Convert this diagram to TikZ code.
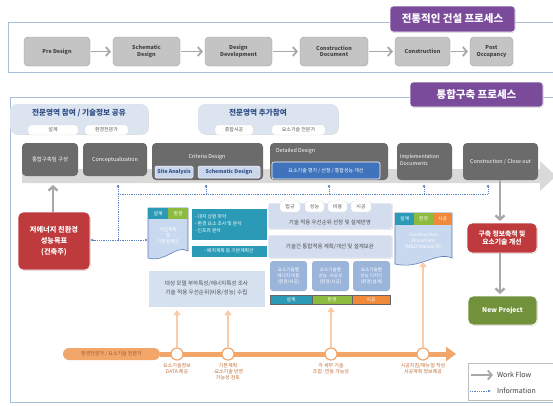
\documentclass[tikz,border=0pt]{standalone}
\usepackage{fontspec}
\setmainfont{Noto Sans CJK KR}
\usetikzlibrary{arrows.meta,shadows,calc}
\definecolor{purp}{HTML}{7A4A9B}
\definecolor{framec}{HTML}{A9BFD9}
\definecolor{oldgray}{HTML}{C4C4C4}
\definecolor{oldedge}{HTML}{9A9FA8}
\definecolor{darkg}{HTML}{6B6B6B}
\definecolor{subb}{HTML}{C9D6EC}
\definecolor{subt}{HTML}{2F4E86}
\definecolor{blueb}{HTML}{3F73BC}
\definecolor{cloudc}{HTML}{DCE4F0}
\definecolor{redc}{HTML}{BE3A3C}
\definecolor{greenc}{HTML}{71913A}
\definecolor{tealc}{HTML}{2A9AB6}
\definecolor{tabg}{HTML}{8DBB3E}
\definecolor{tabo}{HTML}{F08A3A}
\definecolor{lbc}{HTML}{D6E1F0}
\definecolor{midc}{HTML}{D3DDEE}
\definecolor{smallc}{HTML}{9BB4DA}
\definecolor{docf}{HTML}{C8D8EE}
\definecolor{doce}{HTML}{5C7DB5}
\definecolor{bandc}{HTML}{D9D9D9}
\definecolor{wfc}{HTML}{A8A8A8}
\definecolor{infoc}{HTML}{5A84C4}
\definecolor{tlc}{HTML}{F2A66A}
\definecolor{peachc}{HTML}{F9CBA6}
\definecolor{tltext}{HTML}{C0703A}
\newcommand{\mybox}[7]{\node[#6,minimum width={(#4)-(#2)},minimum height={(#5)-(#3)}] (#1) at ({((#2)+(#4))/2},{((#3)+(#5))/2}) {#7};}
\tikzset{
  shad/.style={drop shadow={opacity=0.25,shadow xshift=0.8pt,shadow yshift=-0.8pt}},
  base/.style={inner sep=0pt,outer sep=0pt,align=center},
  titlebox/.style={base,fill=purp,rounded corners=3pt,draw=white,line width=0.8pt,text=white,font=\fontsize{10.5}{12}\selectfont\bfseries,shad},
  oldbox/.style={base,fill=oldgray,draw=oldedge,line width=0.4pt,rounded corners=4pt,text=black!75,font=\fontsize{5.4}{6.4}\selectfont\bfseries},
  procbox/.style={base,fill=darkg,rounded corners=4pt,text=white,font=\fontsize{5.4}{6.4}\selectfont},
  subbox/.style={base,fill=subb,draw=white,line width=0.5pt,rounded corners=1.5pt,text=subt,font=\fontsize{5.2}{6.2}\selectfont\bfseries},
  bluebox/.style={base,fill=blueb,draw=white,line width=0.6pt,rounded corners=2pt,text=white,font=\fontsize{5}{6}\selectfont},
  cloud/.style={base,fill=cloudc,rounded corners=7pt,shad},
  cloudtext/.style={base,text=subt,font=\fontsize{7.6}{9}\selectfont\bfseries},
  tabw/.style={base,fill=white,rounded corners=3pt,draw=black!15,line width=0.3pt,text=black!65,font=\fontsize{5}{6}\selectfont},
  redbox/.style={base,fill=redc,rounded corners=5pt,draw=white,line width=0.8pt,text=white,font=\fontsize{7.2}{11}\selectfont\bfseries,shad},
  greenbox/.style={base,fill=greenc,rounded corners=5pt,draw=white,line width=0.8pt,text=white,font=\fontsize{6.6}{8}\selectfont\bfseries,shad},
  tealbox/.style={base,fill=tealc,draw=white,line width=0.5pt,text=white,font=\fontsize{4.8}{6.6}\selectfont,shad},
  ttab/.style={base,fill=tealc,text=white,font=\fontsize{4.8}{5.4}\selectfont},
  gtab/.style={base,fill=tabg,text=white,font=\fontsize{4.8}{5.4}\selectfont},
  otab/.style={base,fill=tabo,text=white,font=\fontsize{4.8}{5.4}\selectfont},
  lbbox/.style={base,fill=lbc,draw=white,line width=0.5pt,text=black!70,font=\fontsize{5.6}{9}\selectfont,shad},
  midbox/.style={base,fill=midc,draw=white,line width=0.5pt,rounded corners=2pt,text=black!70,font=\fontsize{5.5}{6.5}\selectfont,shad},
  smallbox/.style={base,fill=smallc,rounded corners=3pt,text=white,font=\fontsize{4.6}{5.6}\selectfont},
  docshape/.style={fill=docf,draw=doce,line width=0.6pt},
  doctext/.style={base,text=white,font=\fontsize{4.8}{6}\selectfont},
  wft/.style={draw=wfc,line width=1.8pt,-{Straight Barb[length=4pt,width=9pt]},shorten >=2pt,shorten <=1pt},
  wfv/.style={draw=wfc,line width=2.4pt,-{Straight Barb[length=4pt,width=9pt]}},
  info/.style={draw=infoc,line width=0.6pt,dash pattern=on 1pt off 0.8pt},
  infoarr/.style={info,-{Latex[length=3pt,width=2.6pt]}},
  infodot/.style={info,{Circle[length=2.4pt]}-},
  peach/.style={draw=peachc,line width=2pt,-{Triangle[length=5pt,width=7pt]}},
  tlcirc/.style={circle,fill=white,draw=tlc,line width=1.2pt,minimum size=12pt,inner sep=0pt},
  tllab/.style={base,text=tltext,font=\fontsize{5}{6.2}\selectfont,anchor=north},
  legtext/.style={base,text=black!75,font=\fontsize{7}{8}\selectfont,anchor=west}
}
\begin{document}
\begin{tikzpicture}[x=1pt,y=-1pt]
\useasboundingbox (0,0) rectangle (553,405);
\fill[white] (0,0) rectangle (553,405);
% ---------- traditional process ----------
\draw[framec,line width=0.8pt] (8,22) rectangle (560,72);
\mybox{t1}{390}{6}{515}{32}{titlebox}{전통적인 건설 프로세스}
\mybox{p1}{24}{37}{90}{66}{oldbox}{Pre Design}
\mybox{p2}{113}{37}{180}{66}{oldbox}{Schematic\\Design}
\mybox{p3}{205}{37}{272}{66}{oldbox}{Design\\Development}
\mybox{p4}{300}{37}{368}{66}{oldbox}{Construction\\Document}
\mybox{p5}{395}{37}{450}{66}{oldbox}{Construction}
\mybox{p6}{470}{37}{513}{66}{oldbox}{Post\\Occupancy}
\draw[wft] (p1) -- (p2);
\draw[wft] (p2) -- (p3);
\draw[wft] (p3) -- (p4);
\draw[wft] (p4) -- (p5);
\draw[wft] (p5) -- (p6);
% ---------- integrated process ----------
\draw[framec,line width=0.8pt] (10,97) rectangle (560,402);
\mybox{t2}{410}{82}{543}{107}{titlebox}{통합구축 프로세스}
% callouts
\mybox{cl1}{10}{104}{148}{134}{cloud}{}
\node[cloudtext] (cl1t) at (79,113) {전문영역 참여 / 기술정보 공유};
\mybox{cl1a}{28}{125}{78}{135}{tabw}{설계}
\mybox{cl1b}{85}{125}{128}{135}{tabw}{환경전문가}
\mybox{cl2}{198}{104}{338}{134}{cloud}{}
\node[cloudtext] (cl2t) at (258,113) {전문영역 추가참여};
\mybox{cl2a}{215}{125}{253}{135}{tabw}{종합시공}
\mybox{cl2b}{272}{125}{325}{135}{tabw}{요소기술 전문가}
% band arrow
\fill[bandc] (22,169) -- (540,169) -- (540,161) -- (556,176) -- (540,191) -- (540,183) -- (22,183) -- cycle;
% process boxes
\mybox{team}{22}{143}{78}{176}{procbox}{통합구축팀 구성}
\mybox{concept}{83}{143}{147}{176}{procbox}{Conceptualization}
\mybox{criteria}{152}{143}{263}{180}{procbox}{}
\node[base,text=white,font=\fontsize{5.4}{6.4}\selectfont] (critt) at (207,157) {Criteria Design};
\mybox{site}{155}{166}{193}{178}{subbox}{Site Analysis}
\mybox{schem}{198}{166}{260}{178}{subbox}{Schematic Design}
\mybox{detail}{270}{143}{388}{180}{procbox}{}
\node[base,text=white,font=\fontsize{5.4}{6.4}\selectfont,anchor=west] (dett) at (276,151) {Detailed Design};
\mybox{detsub}{272}{162}{380}{179}{bluebox}{요소기술 평가 / 선정 / 통합성능 개선}
\mybox{impl}{397}{143}{452}{180}{procbox}{}
\node[base,text=white,font=\fontsize{5.2}{6.4}\selectfont,anchor=west,align=left] (implt) at (400,160) {Implementation\\Documents};
\mybox{close}{463}{143}{538}{180}{procbox}{Construction / Close out}
% info lines
\coordinate (dA) at (118,185);
\coordinate (dB) at (206,185);
\coordinate (dC) at (329,185);
\coordinate (dD) at (424,185);
\coordinate (dE) at (488,185);
\coordinate (hA) at (118,194);
\coordinate (hB) at (206,194);
\coordinate (hC) at (329,194);
\coordinate (hD) at (424,194);
\coordinate (hE) at (488,194);
\coordinate (jn) at (118,240);
\draw[infodot] (dA) -- (jn);
\draw[infodot] (dB) -- (hB);
\draw[infodot] (dC) -- (hC);
\draw[infodot] (dD) -- (hD);
\draw[infodot] (dE) -- (hE);
\draw[info] (hA) -- (hE);
% red left
\mybox{redL}{18}{212}{90}{270}{redbox}{저에너지 친환경\\성능목표\\(건축주)}
\coordinate (bandL) at (53,185);
\draw[wfv] (redL.north -| bandL) -- (bandL);
\draw[infoarr] (jn) -- (jn -| redL.east);
% document 1
\draw[docshape] (148,208) -- (188,208) -- (188,251) .. controls (176,244) and (166,263) .. (148,258) -- cycle;
\mybox{doc1}{148}{219}{188}{252}{doctext}{사업계획\\및\\기본설계안}
\mybox{d1a}{148}{208}{168}{219}{ttab}{설계}
\mybox{d1b}{168}{208}{188}{219}{gtab}{환경}
\draw[infoarr] (jn) -- (jn -| doc1.west);
\mybox{tealA}{191}{208}{267}{240}{tealbox}{}
\node[base,anchor=west,align=left,text=white,font=\fontsize{4.8}{7}\selectfont] (tealAt) at (195,224) {- 대지 상황 파악\\- 환경 요소 조사 및 분석\\- 인프라 분석};
\mybox{tealB}{191}{245}{267}{257}{tealbox}{- 배치계획 등 기본계획안}
\mybox{lb}{148}{270}{265}{307}{lbbox}{대상 모델 부하특성/에너지특성 조사\\기술 적용 우선순위(비용/성능) 수립}
% middle
\mybox{m1}{268}{203}{392}{229}{midbox}{}
\node[base,text=black!70,font=\fontsize{5.5}{6.5}\selectfont] (m1t) at (330,222) {기술 적용 우선순위 선정 및 설계반영};
\mybox{m1a}{280}{201}{300}{212}{tabw}{법규}
\mybox{m1b}{305}{201}{324}{212}{tabw}{성능}
\mybox{m1c}{328}{201}{347}{212}{tabw}{비용}
\mybox{m1d}{351}{201}{371}{212}{tabw}{시공}
\mybox{m2}{268}{235}{392}{258}{midbox}{기술간 통합적용 계획/개선 및 설계보완}
\mybox{s1}{270}{261}{307}{291}{smallbox}{요소기술별\\에너지 비용\\(환경/시공)}
\mybox{s2}{312}{261}{349}{291}{smallbox}{요소기술별\\성능·시공성\\(환경/시공)}
\mybox{s3}{353}{261}{390}{291}{smallbox}{요소기술별\\성능 디자인\\(환경/설계)}
\mybox{mt1}{270}{295}{312}{304}{ttab,draw=black!60,line width=0.4pt}{설계}
\mybox{mt2}{312}{295}{352}{304}{gtab,draw=black!60,line width=0.4pt}{환경}
\mybox{mt3}{352}{295}{390}{304}{otab,draw=black!60,line width=0.4pt}{시공}
% document 3
\draw[docshape] (395,213) -- (452,213) -- (452,258) .. controls (436,251) and (420,270) .. (395,264) -- cycle;
\mybox{doc3}{395}{225}{452}{258}{doctext}{Construction\\Document\\(M\&O Manual 등)}
\mybox{d3a}{395}{213}{414}{225}{ttab}{설계}
\mybox{d3b}{414}{213}{433}{225}{gtab}{환경}
\mybox{d3c}{433}{213}{452}{225}{otab}{시공}
% right side
\mybox{redR}{467}{223}{537}{253}{redbox}{}
\node[base,text=white,font=\fontsize{6.8}{8.5}\selectfont\bfseries] (redRt) at (502,238) {구축 정보축적 및\\요소기술 개선};
\mybox{newP}{468}{296}{537}{325}{greenbox}{New Project}
\coordinate (vr1) at (500,180);
\coordinate (vr2) at (500,221);
\coordinate (vr3) at (500,253);
\coordinate (vr4) at (500,294);
\draw[wfv] (vr1) -- (vr2);
\draw[wfv] (vr3) -- (vr4);
% timeline
\mybox{tl}{63}{348}{160}{360}{base,fill=tlc,rounded corners=6pt,text=tltext!80!black,font=\fontsize{5}{6}\selectfont}{환경전문가 / 요소기술 전문가}
\coordinate (tlend) at (456,354);
\draw[draw=tlc,line width=5pt,-{Triangle[length=10pt,width=14pt]}] (tl.east) -- (tlend);
\node[tlcirc] (c1) at (177,354) {};
\node[tlcirc] (c2) at (228,354) {};
\node[tlcirc] (c3) at (331,354) {};
\node[tlcirc] (c4) at (423,354) {};
\node[tllab] (c1l) at (177,363) {요소기술정보\\DATA 제공};
\node[tllab] (c2l) at (228,363) {기본계획\\-요소기술 반영\\가능성 검토};
\node[tllab] (c3l) at (331,363) {각 세부 기술\\조합·연동 가능성};
\node[tllab] (c4l) at (423,363) {시공지침/매뉴얼 작성\\시공계획 정보제공};
\draw[peach,shorten >=3pt] (c1.north) -- (c1.north |- lb.south);
\draw[peach,shorten >=3pt] (c2.north) -- (c2.north |- lb.south);
\draw[peach,shorten >=3pt] (c3.north) -- (c3.north |- mt1.south);
\draw[peach,shorten >=4pt] (c4.north) -- (c4.north |- doc3.south);
% legend
\mybox{leg}{468}{363}{556}{400}{base,fill=white,draw=black!25,line width=0.5pt,shad}{}
\coordinate (lw1) at (471,375);
\coordinate (lw2) at (493,375);
\coordinate (li1) at (470,391);
\coordinate (li2) at (491,391);
\draw[wfv,line width=1.8pt] (lw1) -- (lw2);
\draw[infodot,-{Latex[length=3pt,width=2.6pt]}] (li1) -- (li2);
\node[legtext] (lwt) at (497,375) {Work Flow};
\node[legtext] (lit) at (497,391) {Information};
\end{tikzpicture}
\end{document}
